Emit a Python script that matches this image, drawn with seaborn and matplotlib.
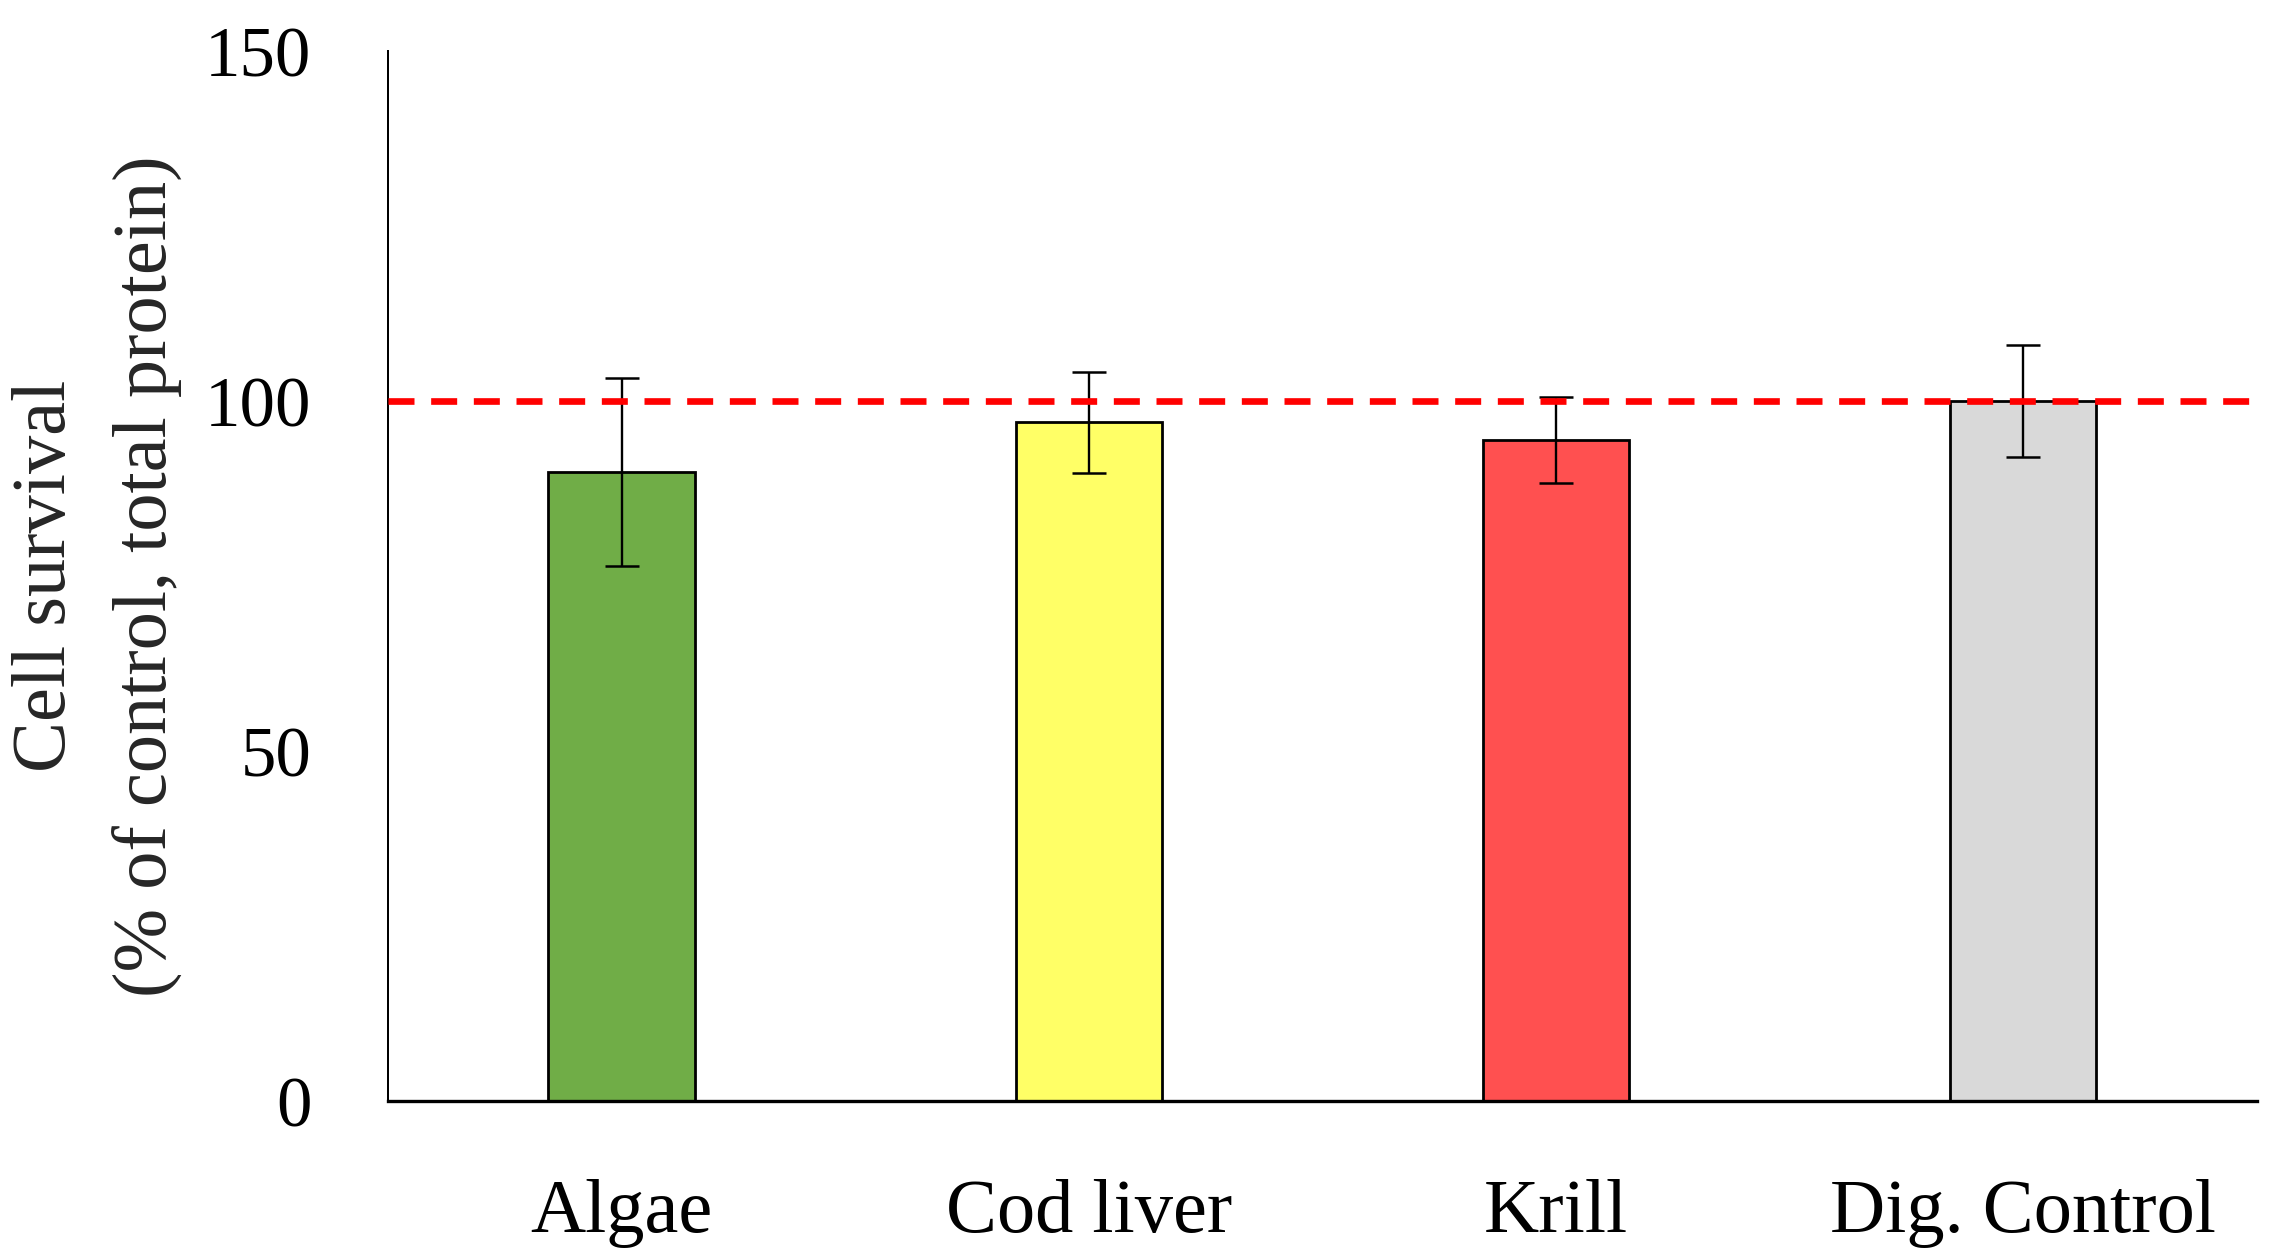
import matplotlib
matplotlib.use("Agg")
import matplotlib.pyplot as plt
import seaborn as sns
import pandas as pd

# ---- data ----
categories = ["Algae", "Cod liver", "Krill", "Dig. Control"]
survival = [89.9, 97.0, 94.5, 100.0]
sd = [13.5, 7.2, 6.1, 8.0]
bar_colors = ["#70AD47", "#FFFF66", "#FF5050", "#D9D9D9"]
y_ticks = [0, 50, 100, 150]
reference_level = 100

sns.set_style("white")
plt.rcParams["font.family"] = ["Liberation Serif", "DejaVu Serif"]

df = pd.DataFrame({"group": categories, "value": survival})

fig = plt.figure(figsize=(22.73, 12.55), dpi=100)
ax = fig.add_axes([0.1707, 0.1225, 0.9928 - 0.1707, 0.9591 - 0.1225])

sns.barplot(data=df, x="group", y="value", hue="group", order=categories,
            hue_order=categories, palette=bar_colors, width=0.3135,
            edgecolor="black", linewidth=2.0, legend=False, errorbar=None,
            saturation=1, ax=ax)

ax.errorbar(x=list(range(len(categories))), y=survival, yerr=sd, fmt="none",
            ecolor="black", elinewidth=1.7, capsize=12.5, capthick=1.8, zorder=4)

ax.axhline(reference_level, color="#FF0000", lw=4.8,
           linestyle=(0, (3.9, 2.5)), zorder=5)

ax.set_xlim(-0.5, 3.5)
ax.set_ylim(0, 150)
ax.set_yticks(y_ticks)
ax.set_xlabel("")
ax.set_ylabel("")

for s in ["top", "right"]:
    ax.spines[s].set_visible(False)
ax.spines["left"].set_linewidth(1.44)
ax.spines["bottom"].set_linewidth(2.4)
ax.spines["left"].set_color("black")
ax.spines["bottom"].set_color("black")

ax.tick_params(axis="y", direction="in", length=17, width=1.8, pad=55,
               labelsize=51, colors="black")
ax.tick_params(axis="x", length=0, pad=56, labelsize=55, colors="black")

ax.text(-0.183, 0.5, "Cell survival", transform=ax.transAxes, rotation=90,
        ha="center", va="center", fontsize=55)
ax.text(-0.1284, 0.5, "(% of control, total protein)", transform=ax.transAxes,
        rotation=90, ha="center", va="center", fontsize=55)

fig.savefig("out.png", dpi=100, facecolor="white")
